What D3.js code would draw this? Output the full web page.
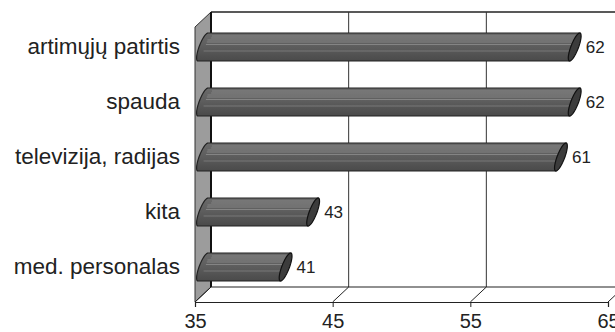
<!DOCTYPE html>
<html>
<head>
<meta charset="utf-8">
<script src="https://cdn.jsdelivr.net/npm/d3@7"></script>
<style>
  body { margin: 0; background: #fff; }
  text { font-family: "Liberation Sans", Arial, Helvetica, sans-serif; fill: #222; }
</style>
</head>
<body>
<svg class="chart"></svg>
<script>
var categories = ["artimųjų patirtis", "spauda", "televizija, radijas", "kita", "med. personalas"];
var values = [62, 62, 61, 43, 41];
var tickValues = [35, 45, 55, 65];

var width = 615, height = 332;
var depthX = 16, depthY = 15;   // 3d offset front -> back

var svg = d3.select(".chart")
    .attr("width", width)
    .attr("height", height);

// front plane scales
var x = d3.scaleLinear()
    .domain([35, 65])
    .range([195, 608]);

var y = d3.scaleBand()
    .domain(categories)
    .range([27, 302])
    .paddingInner(0.49)
    .paddingOuter(0.245);

var x0 = x(35), yTop = 27, yBot = 302;

// side wall (left, gray)
svg.append("path")
    .attr("d", "M" + x0 + "," + yTop + "L" + (x0 + depthX) + "," + (yTop - depthY) +
               "L" + (x0 + depthX) + "," + (yBot - depthY) + "L" + x0 + "," + yBot + "Z")
    .attr("fill", "#9c9c9c")
    .attr("stroke", "#333")
    .attr("stroke-width", 1);

// back wall top edge
svg.append("line")
    .attr("x1", x0 + depthX).attr("x2", width)
    .attr("y1", yTop - depthY).attr("y2", yTop - depthY)
    .attr("stroke", "#222").attr("stroke-width", 1.5);

// back wall gridlines
svg.selectAll(".grid")
    .data(tickValues.slice(1))
    .enter().append("line")
    .attr("class", "grid")
    .attr("x1", function(d) { return x(d) + depthX; })
    .attr("x2", function(d) { return x(d) + depthX; })
    .attr("y1", yTop - depthY)
    .attr("y2", yBot - depthY)
    .attr("stroke", "#333").attr("stroke-width", 1);

// back wall left edge
svg.append("line")
    .attr("x1", x0 + depthX).attr("x2", x0 + depthX)
    .attr("y1", yTop - depthY).attr("y2", yBot - depthY)
    .attr("stroke", "#111").attr("stroke-width", 2);

// floor: back edge, diagonals
svg.append("line")
    .attr("x1", x0 + depthX).attr("x2", width)
    .attr("y1", yBot - depthY).attr("y2", yBot - depthY)
    .attr("stroke", "#222").attr("stroke-width", 1.2);

svg.selectAll(".floorDiag")
    .data(tickValues)
    .enter().append("line")
    .attr("x1", function(d) { return x(d); })
    .attr("x2", function(d) { return x(d) + depthX; })
    .attr("y1", yBot)
    .attr("y2", yBot - depthY)
    .attr("stroke", "#222").attr("stroke-width", 1);

// front x axis
var xAxis = d3.axisBottom(x)
    .tickValues(tickValues)
    .tickSize(5)
    .tickPadding(7);

var gx = svg.append("g")
    .attr("transform", "translate(0," + yBot + ")")
    .call(xAxis);
gx.select(".domain").attr("stroke", "#222").attr("stroke-width", 1.2);
gx.selectAll(".tick line").attr("stroke", "#222");
gx.selectAll(".tick text")
    .style("font-size", "20px")
    .attr("fill", "#222");

// cylinders
var r = 14, shear = 5, ew = 4;
var midX = depthX / 2, midY = depthY / 2;

function ellipsePt(cx, cy, t) {
  return [cx + ew * Math.cos(t) - shear * Math.sin(t), cy + r * Math.sin(t)];
}

var defs = svg.append("defs");
var grad = defs.append("linearGradient")
    .attr("id", "body").attr("x1", 0).attr("x2", 0).attr("y1", 0).attr("y2", 1);
grad.append("stop").attr("offset", "0%").attr("stop-color", "#6a6a6a");
grad.append("stop").attr("offset", "45%").attr("stop-color", "#5e5e5e");
grad.append("stop").attr("offset", "100%").attr("stop-color", "#4a4a4a");

var bars = svg.selectAll(".bar")
    .data(categories)
    .enter().append("g")
    .attr("class", "bar");

bars.each(function(c, i) {
  var g = d3.select(this);
  var cy = y(c) + y.bandwidth() / 2 - midY;
  var xl = x(35) + midX, xr = x(values[i]) + midX;

  // body outline: left half ellipse + straight sides
  var pts = [];
  for (var k = 0; k <= 24; k++) {
    var t = Math.PI / 2 + Math.PI * k / 24;
    pts.push(ellipsePt(xl, cy, t));
  }
  var top = ellipsePt(xr, cy, -Math.PI / 2);
  var bot = ellipsePt(xr, cy, Math.PI / 2);
  var d = "M" + pts.map(function(p) { return p.join(","); }).join("L") +
          "L" + top.join(",") + "L" + bot.join(",") + "Z";
  g.append("path")
      .attr("d", d)
      .attr("fill", "url(#body)")
      .attr("stroke", "#222")
      .attr("stroke-width", 1.2);

  // highlight stripes
  var stripes = [-11, -9, -7, -5, -2.5, 4];
  stripes.forEach(function(s, j) {
    var xs = xl - shear * (s / r) + 2;
    g.append("line")
        .attr("x1", xs + (s < -8 ? 3 : 0)).attr("x2", xr - shear * (s / r))
        .attr("y1", cy + s).attr("y2", cy + s)
        .attr("stroke", j === 5 ? "#8a8a8a" : "#9a9a9a")
        .attr("stroke-width", 0.8)
        .attr("opacity", 0.8);
  });

  // end cap
  var cap = [];
  for (var k2 = 0; k2 <= 48; k2++) cap.push(ellipsePt(xr, cy, 2 * Math.PI * k2 / 48));
  g.append("path")
      .attr("d", "M" + cap.map(function(p) { return p.join(","); }).join("L") + "Z")
      .attr("fill", "#3c3c3c")
      .attr("stroke", "#111")
      .attr("stroke-width", 1.2);

  // value label
  g.append("text")
      .attr("x", xr + ew + shear + 2)
      .attr("y", cy)
      .attr("dy", "0.36em")
      .style("font-size", "17px")
      .text(values[i]);

  // category label
  g.append("text")
      .attr("x", 180)
      .attr("y", cy)
      .attr("dy", "0.33em")
      .attr("text-anchor", "end")
      .style("font-size", "22.5px")
      .text(c);
});
</script>
</body>
</html>
